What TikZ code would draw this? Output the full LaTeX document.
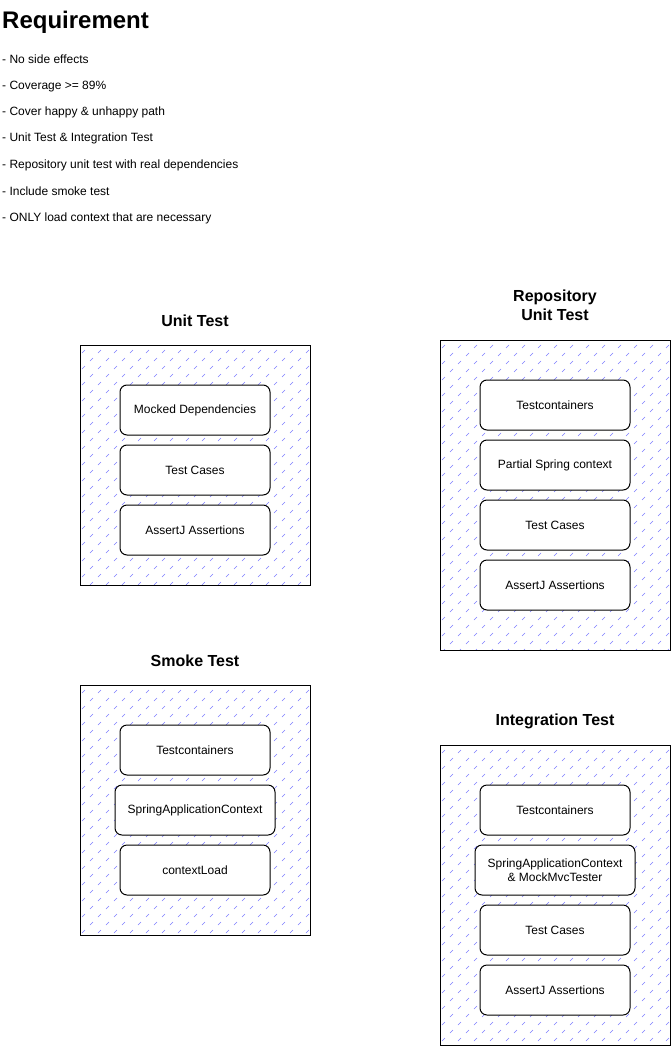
\documentclass[tikz,border=0pt]{standalone}
\usepackage{fontspec}
\setmainfont{Liberation Sans}
\definecolor{hatchblue}{RGB}{125,125,255}
\tikzset{
  hatchline/.style={draw=hatchblue, line width=0.6pt},
  container/.style={draw=black, line width=1pt, inner sep=0pt, anchor=north west},
  item/.style={draw=black, fill=white, line width=1pt, rounded corners=7pt, inner sep=0pt,
    minimum width=150pt, minimum height=50pt, align=center, font=\fontsize{12}{14}\selectfont},
  wideitem/.style={item, minimum width=160pt},
  heading/.style={font=\bfseries\fontsize{16}{19}\selectfont, align=center},
  bullet/.style={anchor=base west, inner sep=0pt, font=\fontsize{12}{14}\selectfont},
}
\newcommand\hatchrect[4]{%
  \begin{scope}
    \clip (#1,#2) rectangle (#3,#4);
    \pgfmathtruncatemacro\nrows{(#4-#2)/8+1}
    \pgfmathtruncatemacro\ncols{(#3-#1)/16+1}
    \foreach \r in {0,...,\nrows}{
      \foreach \c in {0,...,\ncols}{
        \pgfmathsetmacro\xx{#1+2+16*\c+8*mod(\r,2)}
        \pgfmathsetmacro\yy{#2+8+8*\r}
        \draw[hatchline] (\xx,\yy) -- ++(3,-3);
      }
    }
  \end{scope}}
\begin{document}
\begin{tikzpicture}[x=1pt,y=-1pt]
\useasboundingbox (0,0) rectangle (671,1046);

% Requirement text
\node[anchor=base west, inner sep=0pt, font=\bfseries\fontsize{24}{28}\selectfont] (title) at (2,29) {Requirement};
\node[bullet] (b1) at (2,63.5) {- No side effects};
\node[bullet] (b2) at (2,89.5) {- Coverage >= 89\%};
\node[bullet] (b3) at (2,116) {- Cover happy \& unhappy path};
\node[bullet] (b4) at (2,142) {- Unit Test \& Integration Test};
\node[bullet] (b5) at (2,168) {- Repository unit test with real dependencies};
\node[bullet] (b6) at (2,195) {- Include smoke test};
\node[bullet] (b7) at (2,221) {- ONLY load context that are necessary};

% Unit Test
\node[heading] (unittitle) at (195,321) {Unit Test};
\hatchrect{80}{345}{310}{585}
\node[container, minimum width=230pt, minimum height=240pt] (unitbox) at (80,345) {};
\node[item] (u1) at (195,410) {Mocked Dependencies};
\node[item] (u2) at (195,470) {Test Cases};
\node[item] (u3) at (195,530) {AssertJ Assertions};

% Repository Unit Test
\node[heading] (repotitle) at (555,305) {Repository\\Unit Test};
\hatchrect{440}{340}{670}{650}
\node[container, minimum width=230pt, minimum height=310pt] (repobox) at (440,340) {};
\node[item] (r1) at (555,405) {Testcontainers};
\node[item] (r2) at (555,465) {Partial Spring context};
\node[item] (r3) at (555,525) {Test Cases};
\node[item] (r4) at (555,585) {AssertJ Assertions};

% Smoke Test
\node[heading] (smoketitle) at (195,661) {Smoke Test};
\hatchrect{80}{685}{310}{935}
\node[container, minimum width=230pt, minimum height=250pt] (smokebox) at (80,685) {};
\node[item] (s1) at (195,750) {Testcontainers};
\node[wideitem] (s2) at (195,810) {SpringApplicationContext};
\node[item] (s3) at (195,870) {contextLoad};

% Integration Test
\node[heading] (inttitle) at (555,721) {Integration Test};
\hatchrect{440}{745}{670}{1045}
\node[container, minimum width=230pt, minimum height=300pt] (intbox) at (440,745) {};
\node[item] (i1) at (555,810) {Testcontainers};
\node[wideitem] (i2) at (555,870) {SpringApplicationContext\\\& MockMvcTester};
\node[item] (i3) at (555,930) {Test Cases};
\node[item] (i4) at (555,990) {AssertJ Assertions};
\end{tikzpicture}
\end{document}
